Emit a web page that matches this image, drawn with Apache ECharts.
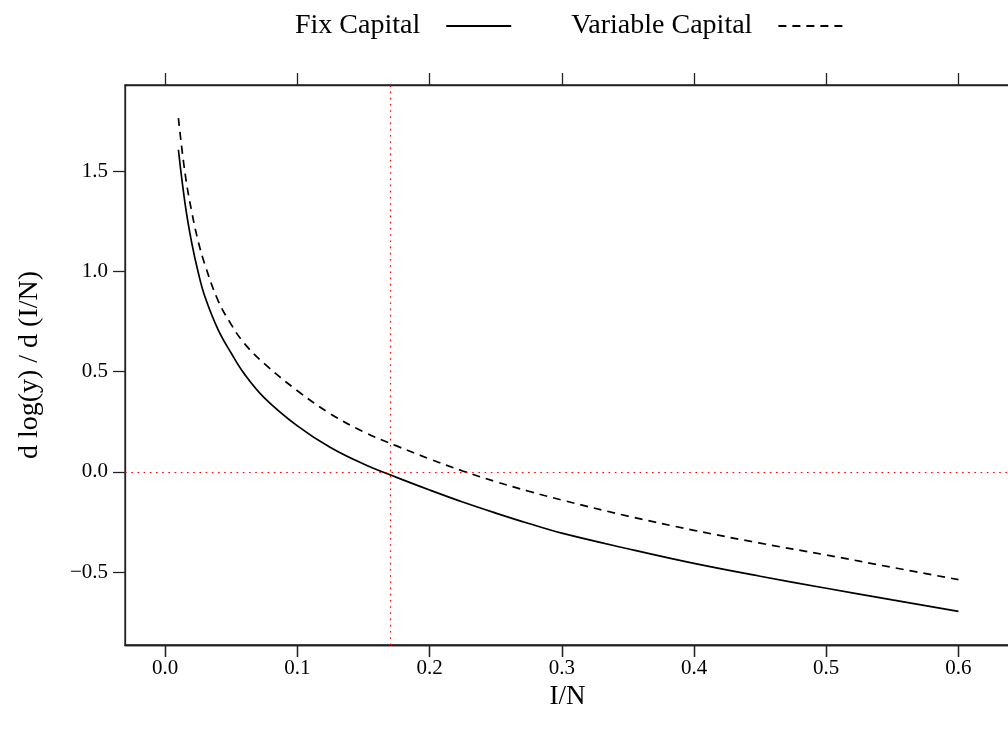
<!DOCTYPE html>
<html>
<head>
<meta charset="utf-8">
<script src="https://cdn.jsdelivr.net/npm/echarts@6/dist/echarts.min.js"></script>
<style>
html,body{margin:0;padding:0;background:#fff;}
#chart{width:1008px;height:731px;}
</style>
</head>
<body>
<div id="chart"></div>
<script>
// ---- data ----
const xValues = [0.01, 0.015, 0.02, 0.025, 0.03, 0.04, 0.05, 0.06, 0.075, 0.10, 0.125, 0.15, 0.175, 0.20, 0.225, 0.25, 0.275, 0.30, 0.35, 0.40, 0.45, 0.50, 0.55, 0.60];
const fixCapital = [1.607, 1.34, 1.145, 0.995, 0.875, 0.71, 0.592, 0.488, 0.37, 0.23, 0.122, 0.04, -0.027, -0.09, -0.15, -0.205, -0.257, -0.305, -0.383, -0.456, -0.52, -0.58, -0.638, -0.695];
const variableCapital = [1.765, 1.49, 1.30, 1.15, 1.035, 0.855, 0.735, 0.64, 0.54, 0.405, 0.29, 0.20, 0.13, 0.065, 0.005, -0.048, -0.096, -0.14, -0.22, -0.291, -0.355, -0.414, -0.476, -0.537];
const seriesNames = ['Fix Capital', 'Variable Capital'];
const xTicks = [0.0, 0.1, 0.2, 0.3, 0.4, 0.5, 0.6];
const yTicks = [-0.5, 0.0, 0.5, 1.0, 1.5];
const crossingX = 0.1688;   // red dotted vertical reference
const zeroY = 0;            // red dotted horizontal reference
const xTitle = 'I/N';
const yTitle = 'd log(y) / d (I/N)';

const font = '"Liberation Serif", "DejaVu Serif", serif';
const fmt = v => (v < 0 ? '\u2212' + Math.abs(v).toFixed(1) : v.toFixed(1));

const chart = echarts.init(document.getElementById('chart'), null, {renderer: 'canvas'});

const xMin = -0.0304, xMax = 0.639;
const yMin = -0.863, yMax = 1.930;
const axisColor = '#222';
const tickStyle = {show: true, inside: false, length: 12, customValues: xTicks, lineStyle: {color: axisColor, width: 1.3}};

const option = {
  animation: false,
  backgroundColor: '#ffffff',
  textStyle: {fontFamily: font, color: '#000'},
  legend: {
    left: 290,
    top: 7,
    align: 'right',
    itemWidth: 65,
    itemHeight: 14,
    itemGap: 59,
    selectedMode: false,
    itemStyle: {color: 'rgba(0,0,0,0)', borderWidth: 0, opacity: 0},
    textStyle: {fontFamily: font, fontSize: 28, color: '#000', padding: [0, 21, 0, 0]},
    data: seriesNames
  },
  grid: {
    left: 125, top: 85, right: -2, bottom: 86,
    show: true, borderColor: axisColor, borderWidth: 1.3,
    containLabel: false,
    outerBoundsMode: 'none'
  },
  xAxis: [{
    type: 'value',
    min: xMin, max: xMax,
    position: 'bottom',
    name: xTitle,
    nameLocation: 'middle',
    nameGap: 27,
    nameTextStyle: {fontFamily: font, fontSize: 27, color: '#000'},
    splitLine: {show: false},
    axisLine: {show: true, onZero: false, lineStyle: {color: axisColor, width: 1.3}},
    axisTick: tickStyle,
    axisLabel: {show: true, customValues: xTicks, formatter: fmt, margin: 13, fontFamily: font, fontSize: 21, color: '#000'}
  }, {
    type: 'value',
    min: xMin, max: xMax,
    position: 'top',
    splitLine: {show: false},
    axisLine: {show: true, onZero: false, lineStyle: {color: axisColor, width: 1.3}},
    axisTick: tickStyle,
    axisLabel: {show: false}
  }, {
    type: 'value',
    min: xMin, max: xMax,
    position: 'bottom',
    splitLine: {show: false},
    axisLine: {show: true, onZero: false, lineStyle: {color: axisColor, width: 1.3}},
    axisTick: tickStyle,
    axisLabel: {show: false}
  }],
  yAxis: {
    type: 'value',
    min: yMin, max: yMax,
    name: yTitle,
    nameLocation: 'middle',
    nameGap: 81,
    nameRotate: 90,
    nameTextStyle: {fontFamily: font, fontSize: 28, color: '#000'},
    splitLine: {show: false},
    axisLine: {show: true, onZero: false, lineStyle: {color: axisColor, width: 1.3}},
    axisTick: {show: true, inside: false, length: 12, customValues: yTicks, lineStyle: {color: axisColor, width: 1.3}},
    axisLabel: {show: true, customValues: yTicks, formatter: fmt, margin: 17, fontFamily: font, fontSize: 21, color: '#000'}
  },
  series: [{
    name: seriesNames[0],
    type: 'line',
    xAxisIndex: 0,
    data: xValues.map((x, i) => [x, fixCapital[i]]),
    showSymbol: false,
    symbol: 'none',
    smooth: 0.4,
    color: '#000',
    lineStyle: {color: '#000', width: 1.7, type: 'solid'},
    markLine: {
      silent: true,
      symbol: ['none', 'none'],
      label: {show: false},
      lineStyle: {color: '#ff0000', width: 1.2, type: [1.6, 4.6]},
      data: [{xAxis: crossingX}, {yAxis: zeroY}]
    },
    z: 3
  }, {
    name: seriesNames[1],
    type: 'line',
    xAxisIndex: 0,
    data: xValues.map((x, i) => [x, variableCapital[i]]),
    showSymbol: false,
    symbol: 'none',
    smooth: 0.4,
    color: '#000',
    lineStyle: {color: '#000', width: 1.7, type: [8, 6]},
    z: 3
  }]
};
chart.setOption(option);
</script>
</body>
</html>
